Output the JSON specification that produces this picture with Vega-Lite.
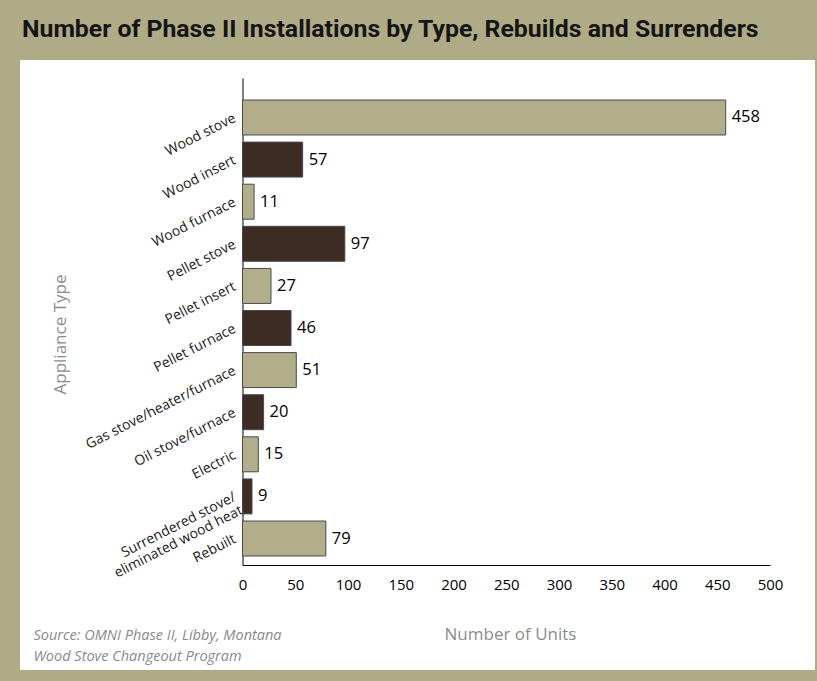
{
  "$schema": "https://vega.github.io/schema/vega-lite/v6.json",
  "width": 795,
  "height": 610,
  "autosize": {"type": "none"},
  "padding": {"left": 20, "top": 60, "right": 2, "bottom": 11},
  "background": "#afab86",
  "config": {"view": {"fill": "white", "stroke": null}, "font": "Open Sans"},
  "title": {
    "text": "Number of Phase II Installations by Type, Rebuilds and Surrenders",
    "anchor": "start",
    "frame": "group",
    "orient": "top",
    "baseline": "alphabetic",
    "offset": 22,
    "dx": 2,
    "dy": 24,
    "font": "Roboto",
    "fontSize": 24.8,
    "fontWeight": "bold",
    "color": "#151515"
  },
  "data": {
    "values": [
      {"type": "Wood stove", "count": 458},
      {"type": "Wood insert", "count": 57},
      {"type": "Wood furnace", "count": 11},
      {"type": "Pellet stove", "count": 97},
      {"type": "Pellet insert", "count": 27},
      {"type": "Pellet furnace", "count": 46},
      {"type": "Gas stove/heater/furnace", "count": 51},
      {"type": "Oil stove/furnace", "count": 20},
      {"type": "Electric", "count": 15},
      {"type": "Surrendered stove/eliminated wood heat", "count": 9},
      {"type": "Rebuilt", "count": 79}
    ]
  },
  "transform": [{"window": [{"op": "row_number", "as": "rn"}]}],
  "encoding": {
    "y": {
      "field": "type",
      "type": "nominal",
      "sort": null,
      "scale": {"range": [18, 505], "paddingInner": 0.169, "paddingOuter": 0.368, "align": 0.71},
      "axis": {
        "title": "Appliance Type",
        "orient": "left",
        "offset": -222.5,
        "domain": true,
        "domainColor": "black",
        "domainWidth": 1,
        "ticks": false,
        "grid": false,
        "labelAngle": -27,
        "labelAlign": "right",
        "labelBaseline": "middle",
        "labelPadding": 8,
        "labelFontSize": 14,
        "labelColor": "#1a1a1a",
        "labelOverlap": false,
        "labelLimit": 0,
        "labelLineHeight": 15,
        "labelExpr": "datum.label == 'Surrendered stove/eliminated wood heat' ? ['Surrendered stove/', 'eliminated wood heat'] : datum.label",
        "titleX": -182.5,
        "titleY": 274,
        "titleAngle": 270,
        "titleFontSize": 17,
        "titleFontWeight": "normal",
        "titleColor": "#8c8c8c",
        "titleBaseline": "middle",
        "titleAlign": "center"
      }
    }
  },
  "layer": [
    {
      "mark": {"type": "bar", "stroke": "#4a4a4a", "strokeWidth": 1},
      "encoding": {
        "x": {
          "field": "count",
          "type": "quantitative",
          "scale": {"domain": [0, 500], "range": [222.5, 750], "nice": false, "zero": true},
          "axis": {
            "title": "Number of Units",
            "orient": "bottom",
            "offset": -105,
            "domainColor": "black",
            "domainWidth": 1,
            "ticks": false,
            "grid": false,
            "values": [0, 50, 100, 150, 200, 250, 300, 350, 400, 450, 500],
            "labelFontSize": 15,
            "labelColor": "black",
            "labelPadding": 12,
            "labelFlush": false,
            "titleX": 490,
            "titleY": 69,
            "titleFontSize": 17,
            "titleFontWeight": "normal",
            "titleColor": "#8c8c8c",
            "titleBaseline": "middle",
            "titleAlign": "center"
          }
        },
        "fill": {
          "condition": {"test": "datum.rn % 2 == 0", "value": "#3d2c24"},
          "value": "#b2ae8c"
        }
      }
    },
    {
      "mark": {"type": "text", "align": "left", "baseline": "middle", "dx": 6, "fontSize": 16.5, "color": "black"},
      "encoding": {
        "x": {
          "field": "count",
          "type": "quantitative",
          "scale": {"domain": [0, 500], "range": [222.5, 750], "nice": false, "zero": true},
          "axis": {
            "orient": "top",
            "domain": false,
            "ticks": false,
            "labels": false,
            "grid": false,
            "title": ["Source: OMNI Phase II, Libby, Montana", "Wood Stove Changeout Program"],
            "titleX": 13,
            "titleY": 579,
            "titleAlign": "left",
            "titleBaseline": "alphabetic",
            "titleFontSize": 14.5,
            "titleFontStyle": "italic",
            "titleFontWeight": "normal",
            "titleColor": "#8a8a8a",
            "titleLineHeight": 21
          }
        },
        "text": {"field": "count", "type": "quantitative"}
      }
    }
  ],
  "resolve": {"axis": {"x": "independent"}}
}
